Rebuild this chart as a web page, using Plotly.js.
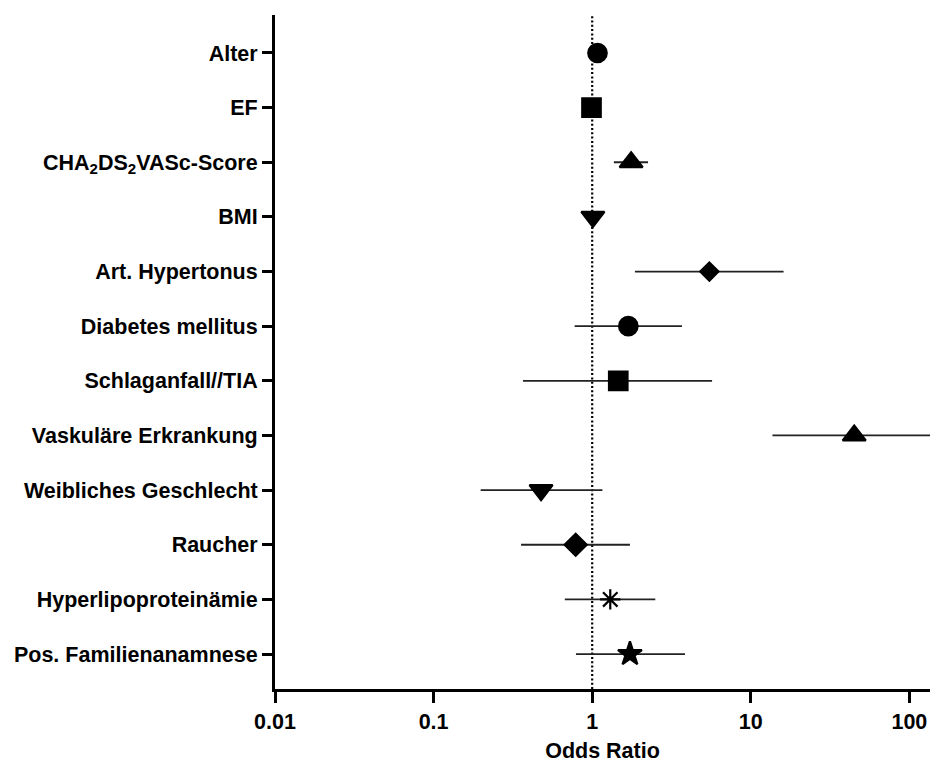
<!DOCTYPE html>
<html>
<head>
<meta charset="utf-8">
<script src="https://cdn.plot.ly/plotly-3.0.1.min.js"></script>
<style>
  html, body { margin: 0; padding: 0; background: #fff; }
  #chart { width: 930px; height: 763px; }
</style>
</head>
<body>
<div id="chart"></div>
<script>
// Risk factors (top to bottom) with odds ratio and 95% confidence interval
const factors = [
  "Alter",
  "EF",
  "CHA<sub>2</sub>DS<sub>2</sub>VASc-Score",
  "BMI",
  "Art. Hypertonus",
  "Diabetes mellitus",
  "Schlaganfall//TIA",
  "Vaskuläre Erkrankung",
  "Weibliches Geschlecht",
  "Raucher",
  "Hyperlipoproteinämie",
  "Pos. Familienanamnese"
];
const oddsRatio = [1.08, 0.99, 1.76, 1.01, 5.48, 1.69, 1.46, 44.9, 0.476, 0.787, 1.30, 1.73];
const ciLower   = [1.04, 0.97, 1.37, 0.99, 1.86, 0.775, 0.366, 13.7, 0.198, 0.356, 0.672, 0.79];
const ciUpper   = [1.12, 1.01, 2.25, 1.03, 16.1, 3.68, 5.7, 150, 1.16, 1.73, 2.50, 3.85];
const symbols   = ["circle", "square", "triangle-up", "triangle-down", "diamond",
                   "circle", "square", "triangle-up", "triangle-down", "diamond",
                   "asterisk-open", "star"];
const sizes     = [18.5, 18.5, 20, 20, 14, 18.5, 18.5, 20, 20, 17, 17, 18];

const errPlus  = oddsRatio.map((v, i) => ciUpper[i] - v);
const errMinus = oddsRatio.map((v, i) => v - ciLower[i]);

const trace = {
  type: "scatter",
  mode: "markers",
  x: oddsRatio,
  y: factors,
  marker: {
    symbol: symbols,
    size: sizes,
    color: "#000",
    opacity: 1,
    line: { color: "#000", width: 2.2 }
  },
  error_x: {
    type: "data",
    symmetric: false,
    array: errPlus,
    arrayminus: errMinus,
    color: "#222",
    thickness: 1.8,
    width: 0
  },
  hoverinfo: "x+y"
};

const tickFont = { family: "Liberation Sans, Arial, sans-serif", size: 21.5, color: "#000" };

const layout = {
  width: 930,
  height: 763,
  margin: { l: 275, r: 0, t: 15, b: 74 },
  paper_bgcolor: "#fff",
  plot_bgcolor: "#fff",
  showlegend: false,
  font: tickFont,
  xaxis: {
    type: "log",
    range: [-2, 2.13],
    tickvals: [0.01, 0.1, 1, 10, 100],
    ticktext: ["<b>0.01</b>", "<b>0.1</b>", "<b>1</b>", "<b>10</b>", "<b>100</b>"],
    ticks: "outside",
    ticklen: 11,
    tickwidth: 3,
    tickcolor: "#000",
    showline: true,
    linewidth: 3,
    linecolor: "#000",
    showgrid: false,
    zeroline: false,
    tickfont: tickFont,
    title: { text: "<b>Odds Ratio</b>", font: tickFont, standoff: 12 }
  },
  yaxis: {
    type: "category",
    range: [11.64, -0.695],
    ticks: "outside",
    ticklen: 10,
    tickwidth: 3,
    tickcolor: "#000",
    showline: true,
    linewidth: 3,
    linecolor: "#000",
    showgrid: false,
    zeroline: false,
    tickfont: tickFont,
    tickvals: factors,
    ticktext: factors.map(f => "<b>" + f + "</b>")
  },
  shapes: [{
    type: "line",
    xref: "x",
    yref: "paper",
    x0: 1, x1: 1,
    y0: 0, y1: 1,
    line: { color: "#000", width: 2.2, dash: "2px,2.3px" },
    layer: "below"
  }]
};

Plotly.newPlot("chart", [trace], layout, { displayModeBar: false, staticPlot: true });
</script>
</body>
</html>
